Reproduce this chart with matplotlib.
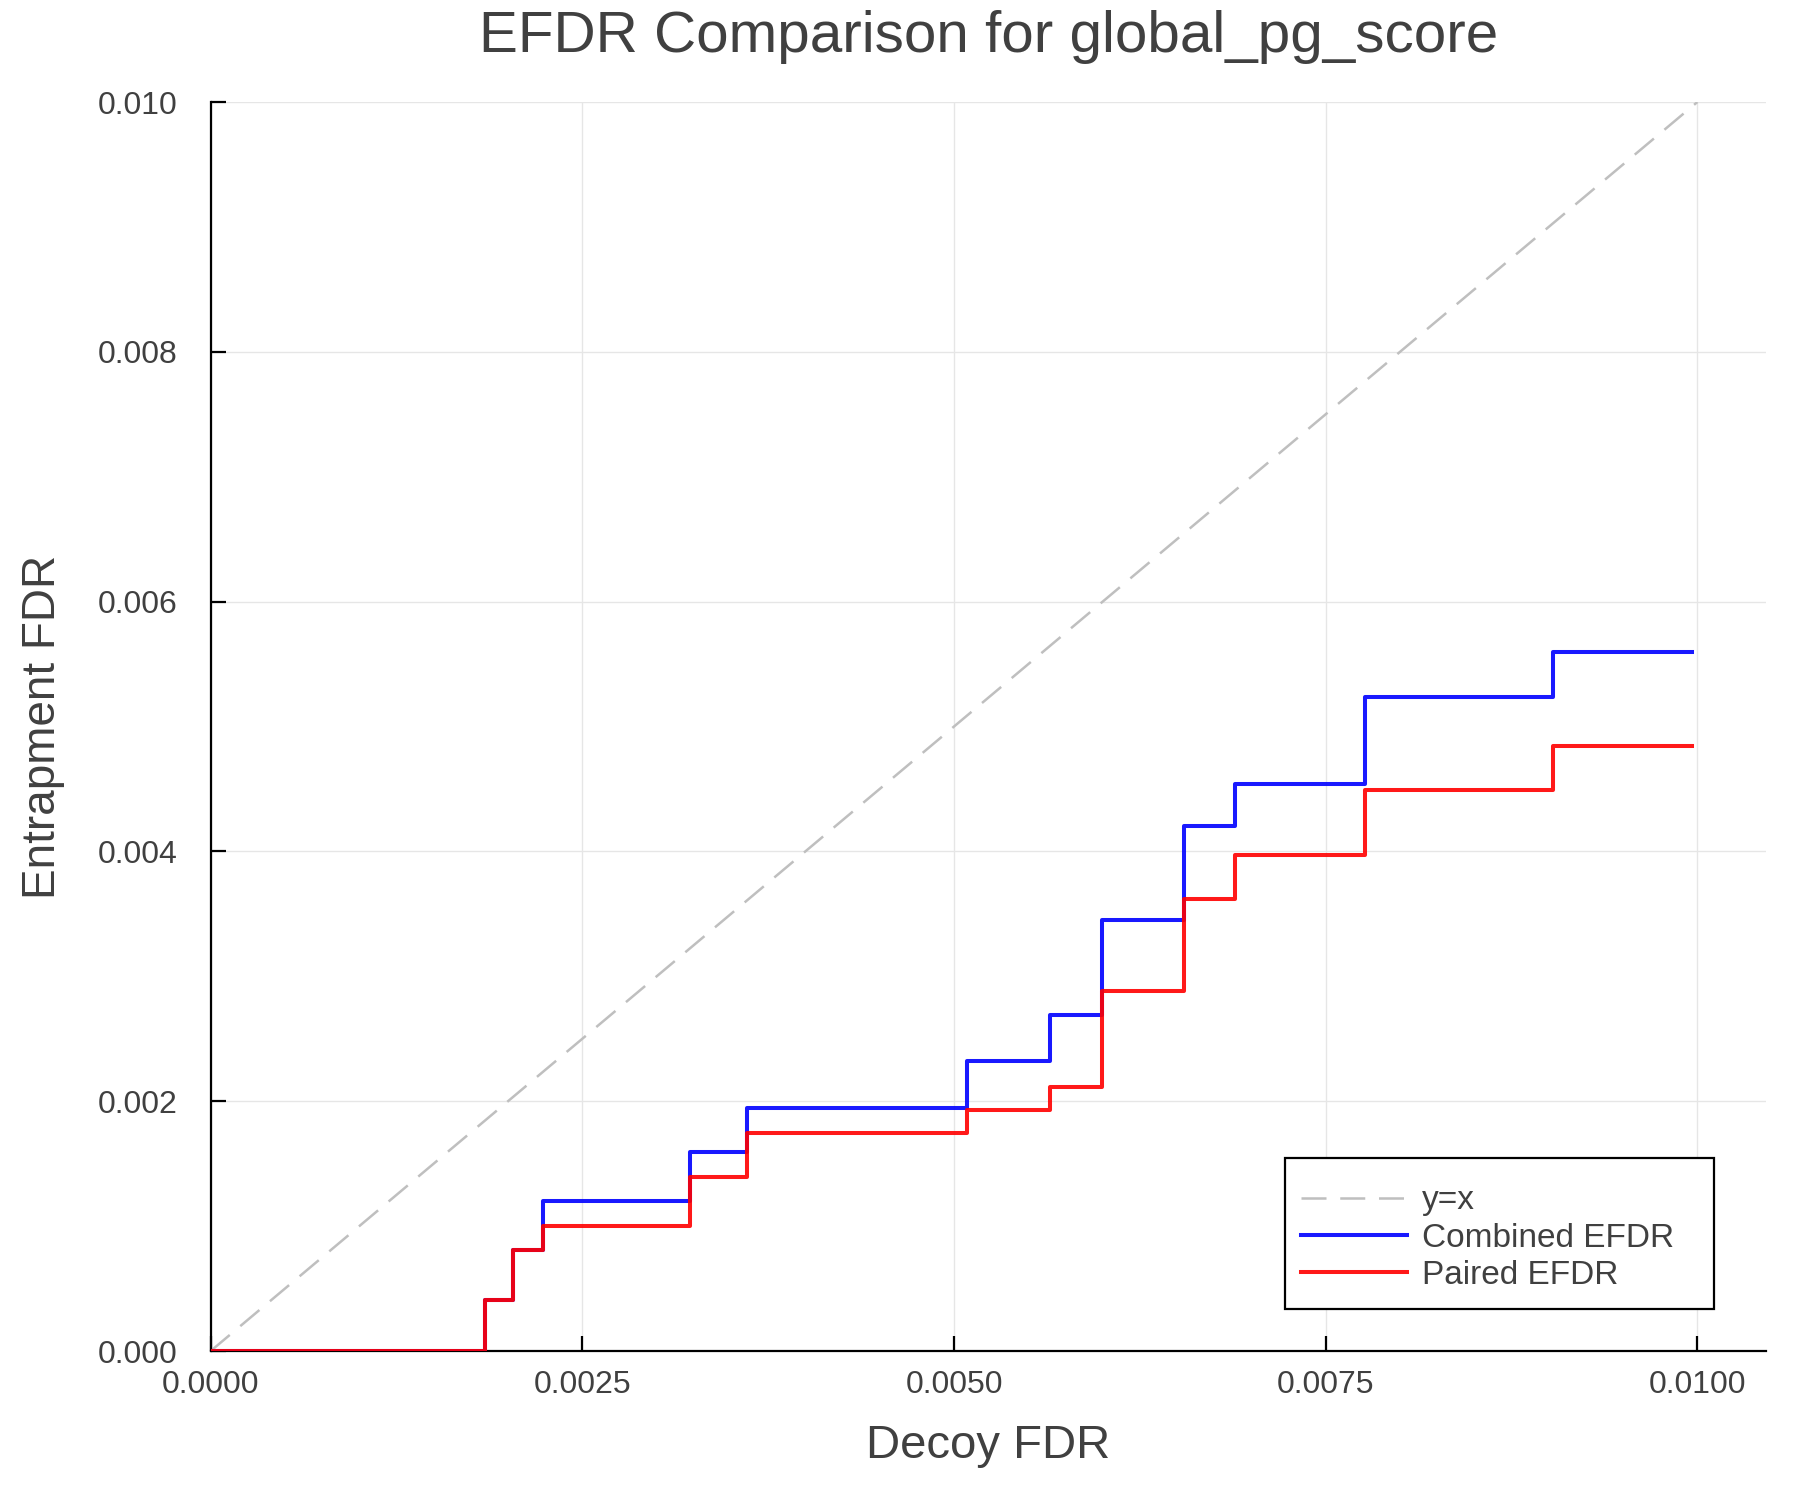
import matplotlib
matplotlib.use("Agg")
import matplotlib.pyplot as plt
from matplotlib.patches import Rectangle

plt.rcParams['font.family'] = ['Liberation Sans', 'DejaVu Sans']

# ---- data ----
decoy_fdr = [0.0, 0.001847, 0.002036, 0.002238, 0.003223, 0.003608, 0.005088,
             0.005643, 0.005997, 0.006545, 0.006893, 0.007764, 0.009030, 0.009961]
combined_efdr = [0.0, 0.000406, 0.000808, 0.001200, 0.001596, 0.001947, 0.002322,
                 0.002692, 0.003451, 0.004200, 0.004539, 0.005237, 0.005594, 0.005594]
paired_efdr = [0.0, 0.000406, 0.000808, 0.001000, 0.001395, 0.001747, 0.001930,
               0.002117, 0.002886, 0.003621, 0.003973, 0.004490, 0.004846, 0.004846]
diag = [0.0, 0.01]
xticks = [0.0, 0.0025, 0.005, 0.0075, 0.01]
xticklabels = ["0.0000", "0.0025", "0.0050", "0.0075", "0.0100"]
yticks = [0.0, 0.002, 0.004, 0.006, 0.008, 0.010]
yticklabels = ["0.000", "0.002", "0.004", "0.006", "0.008", "0.010"]

text_color = "#404040"

fig = plt.figure(figsize=(18, 15), dpi=100)
ax = fig.add_axes([0.117, 0.0993, 0.8640, 0.8327])

ax.plot(diag, diag, color="#bfbfbf", lw=1.8, linestyle=(0, (10, 5.5)), label="y=x", zorder=2)
ax.step(decoy_fdr, combined_efdr, where="post", color="blue", alpha=0.9, lw=2.9,
        label="Combined EFDR", zorder=3)
ax.step(decoy_fdr, paired_efdr, where="post", color="red", alpha=0.9, lw=2.9,
        label="Paired EFDR", zorder=3)

ax.set_xlim(0, 0.01046)
ax.set_ylim(0, 0.010)
ax.set_xticks(xticks)
ax.set_xticklabels(xticklabels)
ax.set_yticks(yticks)
ax.set_yticklabels(yticklabels)

ax.grid(True, color="#e6e6e6", lw=1.0, zorder=0)
ax.set_axisbelow(True)
for s in ["top", "right"]:
    ax.spines[s].set_visible(False)
for s in ["left", "bottom"]:
    ax.spines[s].set_linewidth(1.6)
    ax.spines[s].set_color("black")

ax.tick_params(axis="both", direction="in", length=10.5, width=1.6, color="black",
               labelsize=23, labelcolor=text_color)
ax.tick_params(axis="x", pad=14)
ax.tick_params(axis="y", pad=24)

ax.set_title("EFDR Comparison for global_pg_score", fontsize=42, color=text_color, pad=36)
ax.set_xlabel("Decoy FDR", fontsize=34, color=text_color, labelpad=17)
ax.set_ylabel("Entrapment FDR", fontsize=33, color=text_color, labelpad=23)

# legend frame (Plots.jl style box)
rect = Rectangle((0.6906, 0.0336), 0.2760, 0.1209, transform=ax.transAxes,
                 facecolor="white", edgecolor="black", lw=1.6, zorder=4, clip_on=False)
ax.add_patch(rect)
leg = ax.legend(loc="upper left", bbox_to_anchor=(0.7009, 0.1327), frameon=False,
                fontsize=24, handlelength=3.2, handletextpad=0.45, labelspacing=0.19,
                borderpad=0, borderaxespad=0)
for t in leg.get_texts():
    t.set_color(text_color)
leg.set_zorder(5)

fig.savefig("out.png", dpi=100, facecolor="white")
